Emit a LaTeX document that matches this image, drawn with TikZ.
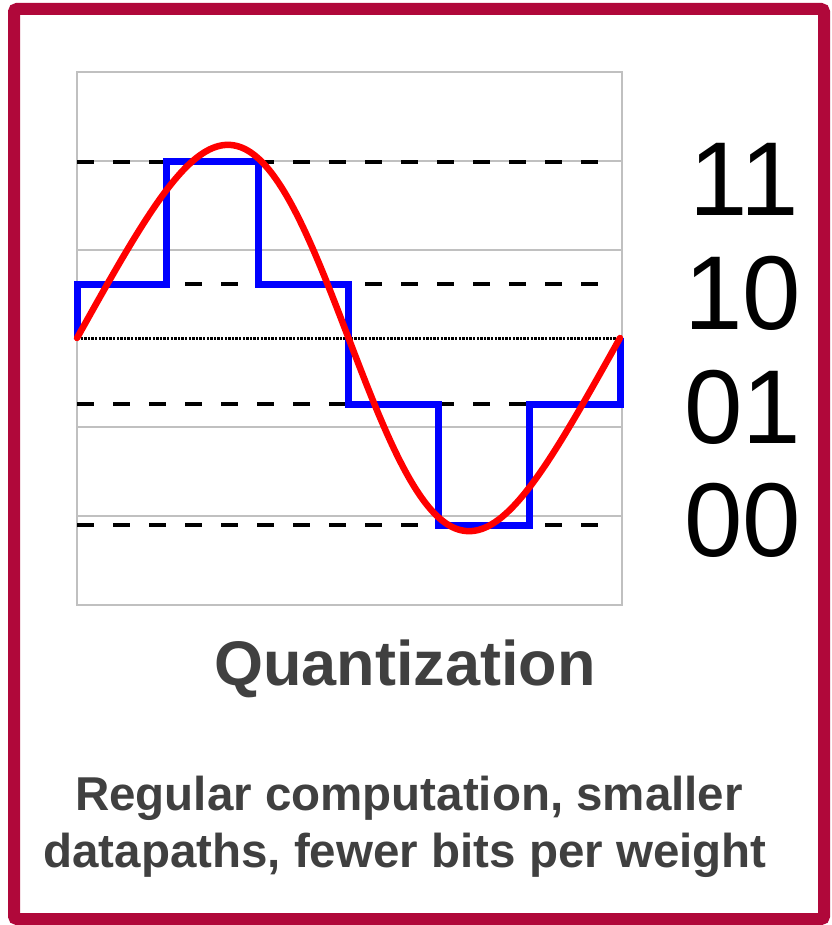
\documentclass[tikz,border=0pt]{standalone}
\usepackage{fontspec}
\setmainfont{Liberation Sans}
\definecolor{qframe}{RGB}{176, 8, 58}
\definecolor{qtext}{RGB}{64, 64, 64}
\definecolor{qgrid}{RGB}{192, 192, 192}
\tikzset{
  gridline/.style={qgrid, line width=1.2pt},
  levelline/.style={black, line width=4pt, dash pattern=on 17pt off 19pt},
  zeroline/.style={black, line width=3pt, dash pattern=on 2.4pt off 1.2pt},
  stairs/.style={blue, line width=7pt, line join=miter},
  signal/.style={red, line width=6.5pt, line cap=round},
  codelabel/.style={anchor=base east, inner sep=0pt, font=\fontsize{105}{110}\selectfont},
  caption/.style={anchor=base, inner sep=0pt, text=qtext},
}

\begin{document}
\begin{tikzpicture}[x=1pt, y=-1pt]
        \useasboundingbox (0,0) rectangle (831,925);
        \fill[white] (0,0) rectangle (831,925);

        % Frame
        \draw[qframe, line width=12pt, rounded corners=3pt] (14,9) rectangle (824,919);

        % Grid
        \draw[qgrid, line width=1.2pt] (77,72) rectangle (622,605);
        \foreach \y in {161,250,427,516} {
          \draw[gridline] (77,\y) -- (622,\y);
        }

        % Levels
        \foreach \y in {162,284,404,525} {
          \draw[levelline] (77,\y) -- (605,\y);
        }
        \draw[zeroline] (77,338) -- (622,338);

        % Quantized signal
        \draw[stairs] (77,338) -- (77,284) -- (166,284) -- (166,162) -- (258,162)
             -- (258,284) -- (348,284) -- (348,404) -- (438,404) -- (438,525)
             -- (529,525) -- (529,404) -- (620,404) -- (620,338);

        % Analog signal
        \draw[signal] plot[domain=0:360, samples=120, smooth]
             ({77+1.50833*\x}, {338-190*(sin(\x)-0.093*sin(2*\x))});

        % Codes
        \node[codelabel] (c11) at (799,215) {11};
        \node[codelabel] (c10) at (801,329) {10};
        \node[codelabel] (c01) at (801,443) {01};
        \node[codelabel] (c00) at (801,556) {00};

        % Captions
        \node[caption, font=\fontsize{63}{68}\selectfont\bfseries] (title) at (405,685) {Quantization};
        \node[caption, font=\fontsize{47.5}{57}\selectfont\bfseries] (line1) at (409,810) {Regular computation, smaller};
        \node[caption, font=\fontsize{47.5}{57}\selectfont\bfseries] (line2) at (405,867) {datapaths, fewer bits per weight};
      \end{tikzpicture}
\end{document}
